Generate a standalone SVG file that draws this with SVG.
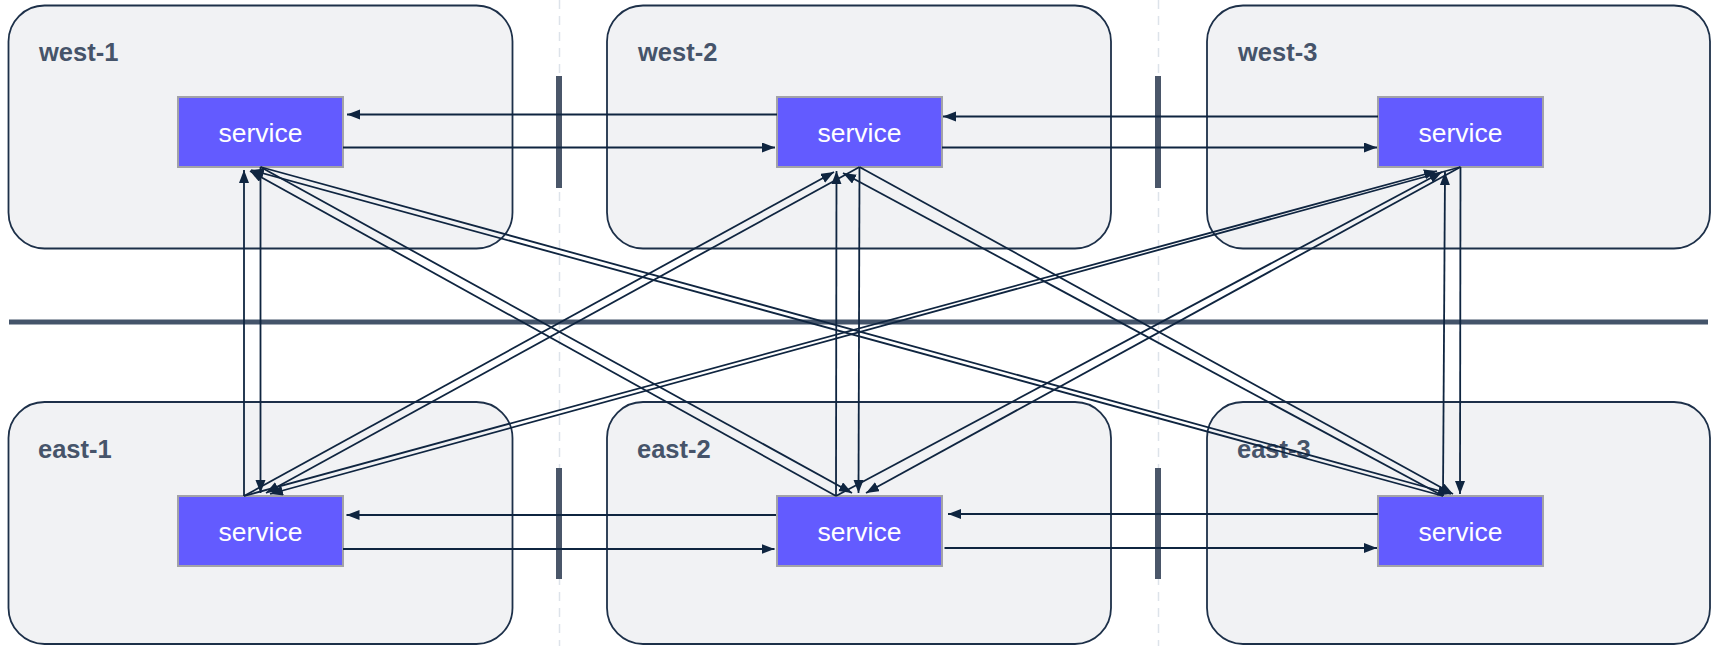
<svg xmlns="http://www.w3.org/2000/svg" width="1717" height="646" viewBox="0 0 1717 646">
  <style>
    .zone { fill: #f1f2f4; stroke: #1d3049; stroke-width: 1.8; }
    .zone-label { font-family: "Liberation Sans", Arial, sans-serif; font-weight: bold; font-size: 25.5px; fill: #46546a; }
    .svc { fill: #635bff; stroke: #a3a3a8; stroke-width: 2; }
    .svc-label { font-family: "Liberation Sans", Arial, sans-serif; font-size: 26.5px; fill: #ffffff; text-anchor: middle; }
    .grid { stroke: #dde3ea; stroke-width: 1.5; stroke-dasharray: 9 7; fill: none; }
    .divider { stroke: #44546a; stroke-width: 5; fill: none; }
    .barrier { stroke: #4a5669; stroke-width: 6; fill: none; }
    .link { stroke: #0f2540; stroke-width: 1.8; fill: none; marker-end: url(#head); }
  </style>
  <defs>
    <marker id="head" markerUnits="userSpaceOnUse" markerWidth="14" markerHeight="11" refX="13" refY="5" orient="auto">
      <path d="M0,0 L13,5 L0,10 z" fill="#0f2540"/>
    </marker>
  </defs>

  <!-- background guides -->
  <g id="guides">
    <line class="grid" x1="559.5" y1="0" x2="559.5" y2="646"/>
    <line class="grid" x1="1158.5" y1="0" x2="1158.5" y2="646"/>
  </g>

  <!-- west row -->
  <g id="west-1">
    <rect class="zone" x="8.5" y="5.5" width="504" height="243" rx="36"/>
    <text class="zone-label" x="39" y="61">west-1</text>
  </g>
  <g id="west-2">
    <rect class="zone" x="607" y="5.5" width="504" height="243" rx="36"/>
    <text class="zone-label" x="638" y="61">west-2</text>
  </g>
  <g id="west-3">
    <rect class="zone" x="1207" y="5.5" width="503" height="243" rx="36"/>
    <text class="zone-label" x="1238" y="61">west-3</text>
  </g>

  <!-- east row -->
  <g id="east-1">
    <rect class="zone" x="8.5" y="402" width="504" height="242" rx="36"/>
    <text class="zone-label" x="38" y="458">east-1</text>
  </g>
  <g id="east-2">
    <rect class="zone" x="607" y="402" width="504" height="242" rx="36"/>
    <text class="zone-label" x="637" y="458">east-2</text>
  </g>
  <g id="east-3">
    <rect class="zone" x="1207" y="402" width="503" height="242" rx="36"/>
    <text class="zone-label" x="1237" y="458">east-3</text>
  </g>

  <!-- region divider and zone barriers -->
  <g id="barriers">
    <line class="divider" x1="9" y1="322" x2="1708" y2="322"/>
    <line class="barrier" x1="559" y1="76" x2="559" y2="188"/>
    <line class="barrier" x1="1158" y1="76" x2="1158" y2="188"/>
    <line class="barrier" x1="559" y1="468" x2="559" y2="579"/>
    <line class="barrier" x1="1158" y1="468" x2="1158" y2="579"/>
  </g>

  <!-- service boxes -->
  <g id="svc-west-1">
    <rect class="svc" x="178" y="97" width="165" height="70"/>
    <text class="svc-label" x="260.5" y="141.5">service</text>
  </g>
  <g id="svc-west-2">
    <rect class="svc" x="777" y="97" width="165" height="70"/>
    <text class="svc-label" x="859.5" y="141.5">service</text>
  </g>
  <g id="svc-west-3">
    <rect class="svc" x="1378" y="97" width="165" height="70"/>
    <text class="svc-label" x="1460.5" y="141.5">service</text>
  </g>
  <g id="svc-east-1">
    <rect class="svc" x="178" y="496" width="165" height="70"/>
    <text class="svc-label" x="260.5" y="540.5">service</text>
  </g>
  <g id="svc-east-2">
    <rect class="svc" x="777" y="496" width="165" height="70"/>
    <text class="svc-label" x="859.5" y="540.5">service</text>
  </g>
  <g id="svc-east-3">
    <rect class="svc" x="1378" y="496" width="165" height="70"/>
    <text class="svc-label" x="1460.5" y="540.5">service</text>
  </g>

  <!-- connectors -->
  <g id="connectors">
    <!-- same-row links -->
    <line class="link" x1="777" y1="114.5" x2="347" y2="114.5"/>
    <line class="link" x1="343" y1="147.5" x2="775" y2="147.5"/>
    <line class="link" x1="1378" y1="116.5" x2="943" y2="116.5"/>
    <line class="link" x1="942" y1="147.5" x2="1377" y2="147.5"/>
    <line class="link" x1="776" y1="515" x2="346.5" y2="515"/>
    <line class="link" x1="343" y1="549" x2="774.5" y2="549"/>
    <line class="link" x1="1378" y1="514" x2="948" y2="514"/>
    <line class="link" x1="944.5" y1="548" x2="1377" y2="548"/>

    <!-- west to east -->
    <line class="link" x1="260.5" y1="167" x2="260.5" y2="493"/>
    <line class="link" x1="260.5" y1="167" x2="852" y2="493"/>
    <line class="link" x1="260.5" y1="167" x2="1451" y2="494"/>
    <line class="link" x1="859.5" y1="167" x2="266" y2="493"/>
    <line class="link" x1="859.5" y1="167" x2="858.5" y2="493"/>
    <line class="link" x1="859.5" y1="167" x2="1453" y2="494"/>
    <line class="link" x1="1460.5" y1="167" x2="270" y2="494"/>
    <line class="link" x1="1460.5" y1="167" x2="866" y2="493"/>
    <line class="link" x1="1460.5" y1="167" x2="1460" y2="494"/>

    <!-- east to west -->
    <line class="link" x1="244" y1="496" x2="244" y2="170"/>
    <line class="link" x1="836" y1="496" x2="250" y2="171"/>
    <line class="link" x1="1443" y1="496" x2="251" y2="170"/>
    <line class="link" x1="244" y1="496" x2="834" y2="172"/>
    <line class="link" x1="836" y1="496" x2="836.5" y2="171"/>
    <line class="link" x1="1443" y1="496" x2="843" y2="173"/>
    <line class="link" x1="244" y1="496" x2="1437" y2="171"/>
    <line class="link" x1="836" y1="496" x2="1442" y2="172"/>
    <line class="link" x1="1443" y1="496" x2="1445" y2="172"/>
  </g>
</svg>
